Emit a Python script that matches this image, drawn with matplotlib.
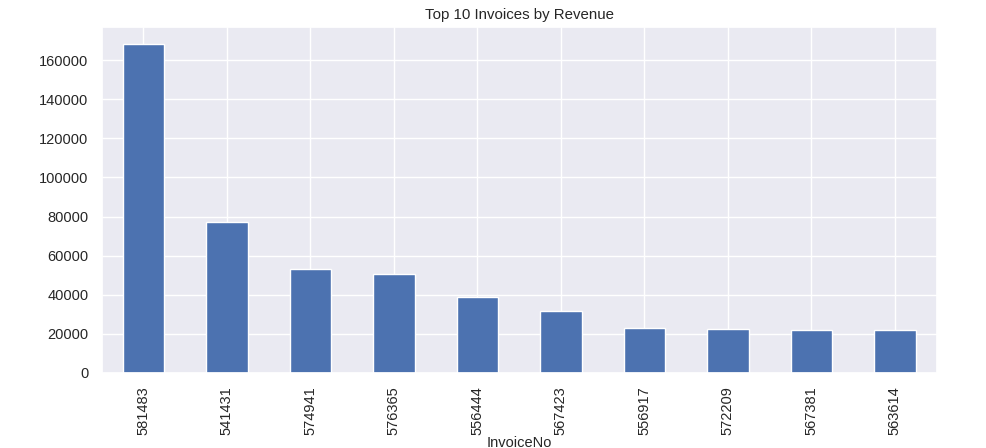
import matplotlib
matplotlib.use("Agg")
import matplotlib.pyplot as plt
import pandas as pd
import seaborn as sns

sns.set_theme()
plt.rcParams["font.family"] = ["Liberation Sans", "DejaVu Sans"]

invoices = ["581483", "541431", "574941", "576365", "556444",
            "567423", "556917", "572209", "567381", "563614"]
revenue = [168469.6, 77183.6, 52940.94, 50653.91, 38970.0,
           31698.16, 22775.93, 22206.0, 22104.8, 21880.44]

top10 = pd.Series(revenue, index=pd.Index(invoices, name="InvoiceNo"))

fig, ax = plt.subplots(figsize=(9.87, 4.48), dpi=100)
top10.plot(kind="bar", ax=ax, color="#4c72b0")
ax.set_title("Top 10 Invoices by Revenue", fontsize=10.8)
ax.set_xlabel("InvoiceNo", fontsize=10.5, labelpad=1)
ax.tick_params(labelsize=10.5)

fig.subplots_adjust(left=0.103, right=0.949, top=0.939, bottom=0.168)
fig.savefig("out.png")
